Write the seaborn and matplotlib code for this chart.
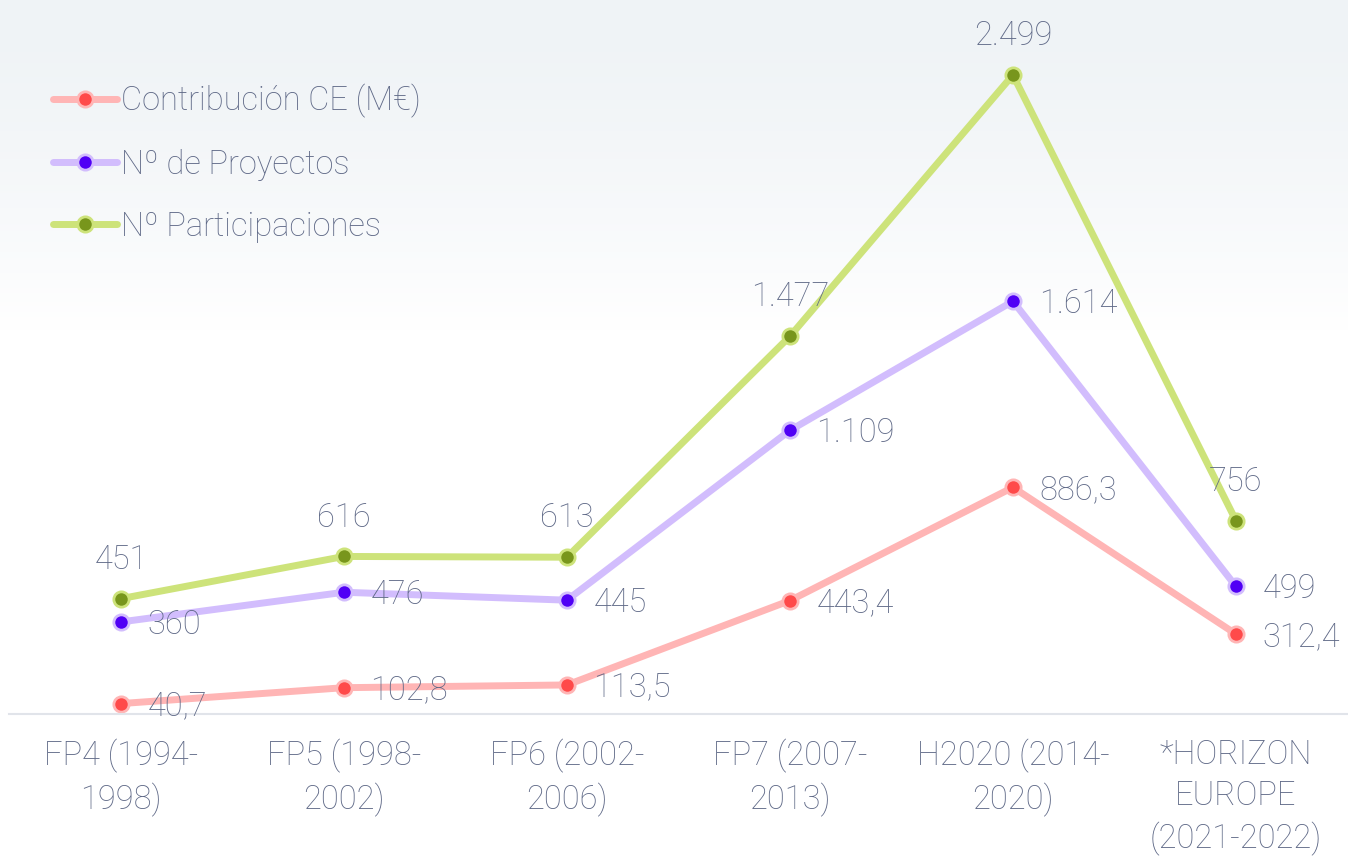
import numpy as np
import pandas as pd
import matplotlib
matplotlib.use("Agg")
import matplotlib.pyplot as plt
import seaborn as sns

# ─── Data ────────────────────────────────────────────────
programas = ["FP4 (1994-\n1998)", "FP5 (1998-\n2002)", "FP6 (2002-\n2006)",
             "FP7 (2007-\n2013)", "H2020 (2014-\n2020)",
             "*HORIZON\nEUROPE\n(2021-2022)"]
contribucion = [40.7, 102.8, 113.5, 443.4, 886.3, 312.4]
proyectos = [360, 476, 445, 1109, 1614, 499]
participaciones = [451, 616, 613, 1477, 2499, 756]

# ─── Style ───────────────────────────────────────────────
TEXT = "#5f6987"
FS = 23.5
sns.set_theme(style="white")
plt.rcParams["font.family"] = ["Roboto", "DejaVu Sans"]
plt.rcParams["font.weight"] = "light"

series = [
    ("Contribución CE (M€)", contribucion, "#ffb5b5", "#ff4a4a", "right"),
    ("Nº de Proyectos", proyectos, "#d2bdfd", "#5000f5", "right"),
    ("Nº Participaciones", participaciones, "#cde37a", "#78961c", "above"),
]


def fmt_es(v, decimals):
    s = f"{v:,.{decimals}f}"
    return s.replace(",", "X").replace(".", ",").replace("X", ".")


fig = plt.figure(figsize=(13.48, 8.67), dpi=100)

# soft background gradient at the top
bg = fig.add_axes([0, 0, 1, 1], zorder=0)
grad = np.ones((867, 2, 3))
top = np.array([0xef, 0xf3, 0xf6]) / 255
for i in range(867):
    t = min(i / 330, 1.0) ** 1.5
    grad[i] = top * (1 - t) + np.ones(3) * t
bg.imshow(grad, aspect="auto", extent=[0, 1, 0, 1], origin="upper")
bg.axis("off")

ax = fig.add_axes([0.007, 0.1765, 0.9926, 0.8235], zorder=1)
ax.patch.set_alpha(0)

x = np.arange(len(programas))
for name, vals, lc, mc, pos in series:
    sns.lineplot(x=x, y=vals, ax=ax, color=lc, lw=5, marker="o", markersize=11,
                 markerfacecolor=mc, markeredgecolor=lc, markeredgewidth=2,
                 label=name, solid_capstyle="round")
    dec = 1 if isinstance(vals[0], float) else 0
    for xi, v in zip(x, vals):
        txt = fmt_es(v, dec)
        if pos == "above":
            ax.annotate(txt, (xi, v), xytext=(0, 28), textcoords="offset points",
                        ha="center", va="center", fontsize=FS, color=TEXT)
        else:
            ax.annotate(txt, (xi, v), xytext=(19, -2), textcoords="offset points",
                        ha="left", va="center", fontsize=FS, color=TEXT)

ax.set_xlim(-0.5, 5.5)
ax.set_ylim(0, 2792)
ax.set_yticks([])
ax.set_xticks(x)
ax.set_xticklabels(programas, fontsize=FS, color=TEXT, linespacing=1.36)
ax.tick_params(axis="x", length=0, pad=18)
for s in ["top", "left", "right"]:
    ax.spines[s].set_visible(False)
ax.spines["bottom"].set_color("#e1e4ea")
ax.spines["bottom"].set_linewidth(1.5)

leg = ax.legend(loc="upper left", bbox_to_anchor=(44 / 1338, 1 - 84 / 714),
                frameon=False, fontsize=FS, labelcolor=TEXT,
                handlelength=1.95, handletextpad=0.12, labelspacing=0.93,
                borderaxespad=0, borderpad=0)

fig.savefig("out.png", dpi=100)
